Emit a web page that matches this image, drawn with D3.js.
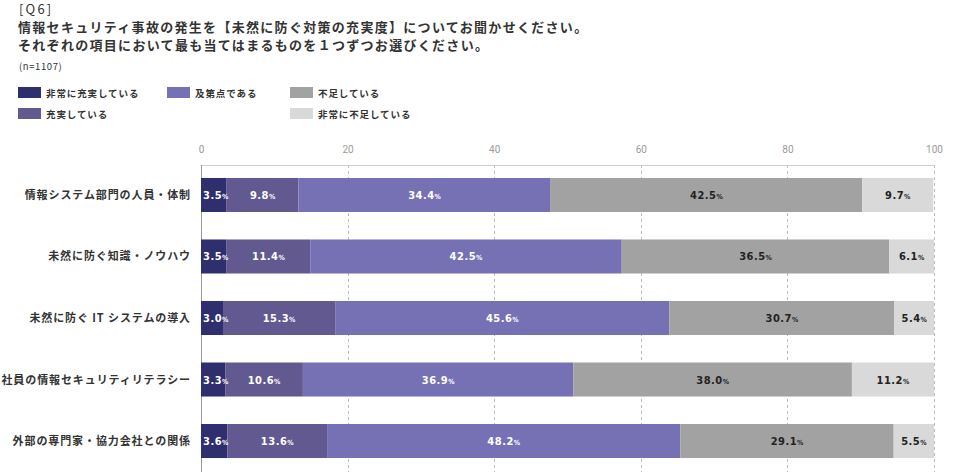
<!DOCTYPE html>
<html><head><meta charset="utf-8">
<script src="https://cdn.jsdelivr.net/npm/d3@7"></script>
<style>
html,body{margin:0;padding:0;background:#fff;}
svg{display:block;}
</style></head>
<body>
<script>
const categories = ["情報システム部門の人員・体制","未然に防ぐ知識・ノウハウ","未然に防ぐ IT システムの導入","社員の情報セキュリティリテラシー","外部の専門家・協力会社との関係"];
const seriesNames = ["非常に充実している","充実している","及第点である","不足している","非常に不足している"];
const s1 = [3.5,3.5,3.0,3.3,3.6];
const s2 = [9.8,11.4,15.3,10.6,13.6];
const s3 = [34.4,42.5,45.6,36.9,48.2];
const s4 = [42.5,36.5,30.7,38.0,29.1];
const s5 = [9.7,6.1,5.4,11.2,5.5];
const colors = ["#2f2e6f","#625990","#7671b4","#a2a2a2","#d9d9d9"];
const labelColors = ["#fff","#fff","#fff","#222","#222"];
const ticks = [0,20,40,60,80,100];
const titleLines = ["[Q6]","情報セキュリティ事故の発生を【未然に防ぐ対策の充実度】についてお聞かせください。","それぞれの項目において最も当てはまるものを１つずつお選びください。"];
const note = "(n=1107)";

const W=974,H=472;
const jp = "'Noto Sans CJK JP','Noto Sans',sans-serif";
const num = "'DejaVu Sans Condensed','DejaVu Sans','Liberation Sans',sans-serif";
const svg = d3.select("body").append("svg").attr("width",W).attr("height",H);

// title
svg.append("text").attr("x",19).attr("y",14).text(titleLines[0])
  .attr("font-family",jp).attr("font-size",13).attr("fill","#333").attr("letter-spacing",2.2);
svg.append("text").attr("x",18).attr("y",32).text(titleLines[1])
  .attr("font-family",jp).attr("font-size",13).attr("font-weight",700).attr("fill","#333").attr("letter-spacing",1.3);
svg.append("text").attr("x",18).attr("y",50).text(titleLines[2])
  .attr("font-family",jp).attr("font-size",13).attr("font-weight",700).attr("fill","#333").attr("letter-spacing",1.3);
svg.append("text").attr("x",19).attr("y",70).text(note)
  .attr("font-family",jp).attr("font-size",9.5).attr("fill","#333").attr("letter-spacing",0.6);

// legend
const legendPos = [[18,87],[18,108],[167,87],[290,87],[290,108]];
seriesNames.forEach((n,i)=>{
  const [lx,ly]=legendPos[i];
  svg.append("rect").attr("x",lx).attr("y",ly).attr("width",23).attr("height",11).attr("fill",colors[i]);
  svg.append("text").attr("x",lx+28).attr("y",ly+9.5).text(n)
    .attr("font-family",jp).attr("font-size",9.5).attr("font-weight",700).attr("fill","#333").attr("letter-spacing",0.9);
});

// scales
const x = d3.scaleLinear().domain([0,100]).range([201,934]);
const y = d3.scaleBand().domain(categories).range([165,471]).paddingInner(0.447).paddingOuter(0.211);

// top line
svg.append("line").attr("x1",x(0)).attr("x2",x(100)).attr("y1",165.5).attr("y2",165.5).attr("stroke","#cfcfcf");
// gridlines
ticks.filter(t=>t>0).forEach(t=>{
  svg.append("line").attr("x1",Math.round(x(t))+0.5).attr("x2",Math.round(x(t))+0.5).attr("y1",165).attr("y2",H)
    .attr("stroke","#bdbdbd").attr("stroke-dasharray","3,3");
});
// top axis
const ax = svg.append("g").attr("transform","translate(0,150)")
  .call(d3.axisTop(x).tickValues(ticks).tickSize(0).tickPadding(0));
ax.select(".domain").remove();
ax.selectAll("text").attr("font-family","'Liberation Sans Narrow','Roboto',sans-serif").attr("font-size",10)
  .attr("fill","#9a9a9a").attr("dy","0.32em").attr("y",0);
// left axis line
svg.append("line").attr("x1",x(0)+0.5).attr("x2",x(0)+0.5).attr("y1",165).attr("y2",H).attr("stroke","#999");

// stacked bars
const rows = categories.map((c,i)=>({cat:c,vals:[s1[i],s2[i],s3[i],s4[i],s5[i]]}));
const data = rows.map(r=>{const o={cat:r.cat}; seriesNames.forEach((n,j)=>o[n]=r.vals[j]); return o;});
const stack = d3.stack().keys(seriesNames)(data);
const layers = svg.append("g").selectAll("g").data(stack).join("g").attr("fill",(d,i)=>colors[i]);
layers.selectAll("rect").data(d=>d).join("rect")
  .attr("x",d=>x(d[0])).attr("width",d=>x(d[1])-x(d[0]))
  .attr("y",d=>y(d.data.cat)).attr("height",y.bandwidth());

// value labels
stack.forEach((layer,i)=>{
  layer.forEach(d=>{
    let cx=(x(d[0])+x(d[1]))/2;
    const t=svg.append("text").attr("x",cx).attr("y",y(d.data.cat)+y.bandwidth()/2+4)
      .attr("text-anchor","middle").attr("fill",labelColors[i]).attr("font-family",num).attr("font-weight",700);
    t.append("tspan").attr("font-size",11).attr("letter-spacing",0.5).text((d[1]-d[0]).toFixed(1));
    t.append("tspan").attr("font-size",7).text("%");
    const w=t.node().getComputedTextLength();
    const minX=x(0)+2+w/2;
    if(cx<minX) t.attr("x",minX);
  });
});

// category labels
categories.forEach(c=>{
  svg.append("text").attr("x",191).attr("y",y(c)+y.bandwidth()/2+4).attr("text-anchor","end")
    .attr("font-family",jp).attr("font-size",11).attr("font-weight",700).attr("fill","#333").attr("letter-spacing",0.9).text(c);
});
</script>
</body></html>
